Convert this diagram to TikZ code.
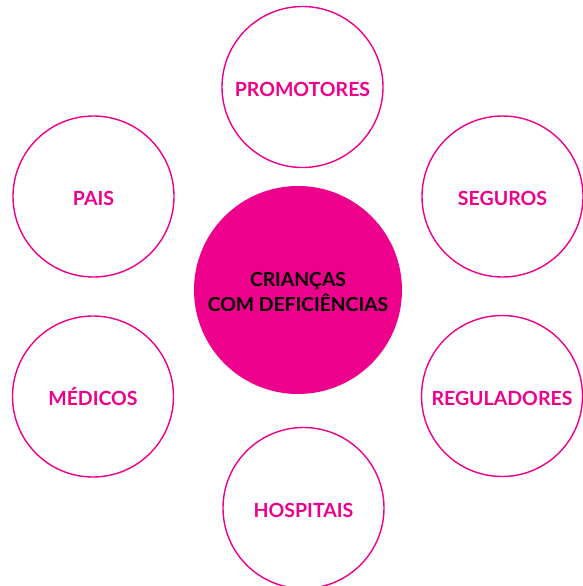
\documentclass[tikz,border=0pt]{standalone}
\usepackage{fontspec}
\setmainfont{Lato}
\definecolor{mag}{HTML}{EC008C}
\newcommand{\lowtxt}[1]{\raisebox{-2pt}[\height][\depth]{#1}}
\begin{document}
\begin{tikzpicture}[x=1pt,y=-1pt,
  outer/.style={circle,draw=mag,line width=1.4pt,minimum size=161pt,inner sep=0pt,
    text height=18pt,text depth=0pt,
    text=mag,font=\fontsize{19.5}{22}\selectfont\bfseries},
  hub/.style={circle,fill=mag,minimum size=208pt,inner sep=0pt,text=black,align=center,
    font=\fontsize{19.3}{24}\selectfont\bfseries}]
\useasboundingbox (0,0) rectangle (582,586);
\node[hub] (c) at (298,290) {\lowtxt{\shortstack{CRIANÇAS\\[1pt]COM DEFICIÊNCIAS}}};
\node[outer] (pro) at (302.5,87) {PROMOTORES};
\node[outer] (seg) at (502.5,196.5) {SEGUROS};
\node[outer] (reg) at (502,396) {REGULADORES};
\node[outer] (hos) at (303.5,508) {HOSPITAIS};
\node[outer] (med) at (93,396.5) {MÉDICOS};
\node[outer] (pai) at (93.5,196.5) {PAIS};
\end{tikzpicture}
\end{document}
